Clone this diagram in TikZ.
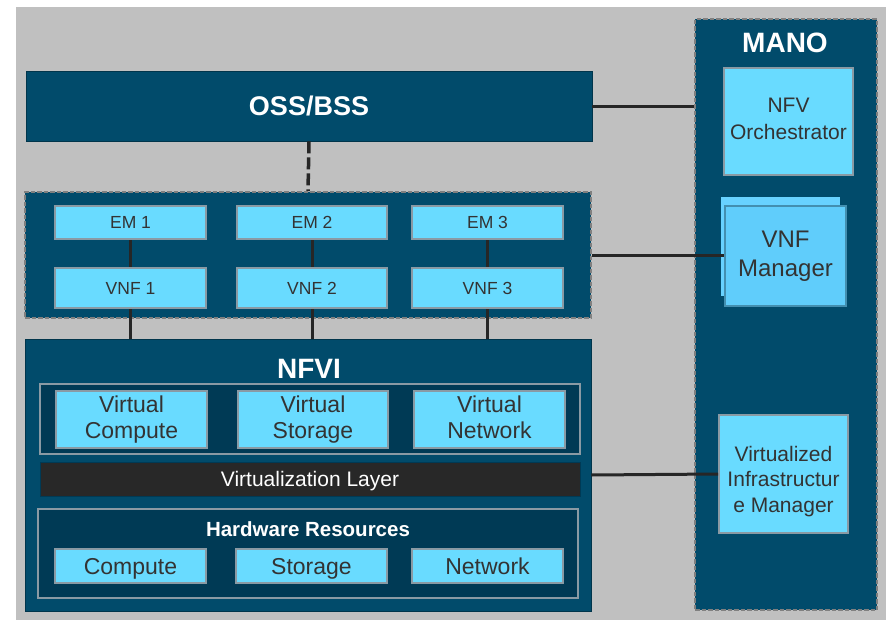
\documentclass[tikz,border=0pt]{standalone}
\usepackage{fontspec}
\setmainfont{Liberation Sans}
\usepackage{tikz}
\usepackage{xcolor}
\usetikzlibrary{positioning}
\definecolor{navy}{HTML}{014B6B}
\definecolor{deepnavy}{HTML}{003A55}
\definecolor{cyanbox}{HTML}{69DBFF}
\definecolor{vnfmbox}{HTML}{60CDFB}
\definecolor{vnfmback}{HTML}{68D2FF}
\definecolor{bggray}{HTML}{C0C0C0}
\definecolor{edgegray}{HTML}{8A9AA4}
\definecolor{txtgray}{HTML}{333333}
\definecolor{wire}{HTML}{262626}
\definecolor{layer}{HTML}{282828}
\newcommand{\capstrut}{\rule[-0.214em]{0pt}{1.144em}}
\tikzstyle{panel} = [rectangle, draw=navy!70!black, fill=navy, line width=0.8pt, inner sep=0pt]
\tikzstyle{dashpanel} = [rectangle, draw=gray, fill=navy, line width=2pt, dash pattern=on 4.5pt off 2pt, inner sep=0pt]
\tikzstyle{group} = [rectangle, draw=edgegray, fill=deepnavy, line width=1.5pt, inner sep=0pt]
\tikzstyle{block} = [rectangle, draw=edgegray, fill=cyanbox, line width=2pt, text=txtgray, align=center, inner sep=0pt, execute at begin node=\capstrut, execute at end node=\capstrut]
\tikzstyle{title} = [text=white, font=\bfseries\fontsize{28}{30}\selectfont]
\tikzstyle{link} = [line width=3pt, draw=wire]

\begin{document}
\begin{tikzpicture}[x=1pt, y=-1pt]
            \useasboundingbox (0,0) rectangle (886,621);
            \fill[bggray] (16,7) rectangle (886,620);

            \node (oss) [panel, title, minimum width=566pt, minimum height=70pt, font=\bfseries\fontsize{27}{30}\selectfont] at (309,106) {OSS/BSS};
            \node (vnfzone) [dashpanel, minimum width=566pt, minimum height=126pt] at (308,255) {};
            \node (em1) [block, minimum width=151pt, minimum height=33pt, font=\fontsize{17.5}{20}\selectfont] at (130.5,222.5) {EM 1};
            \node (em2) [block, minimum width=150pt, minimum height=33pt, font=\fontsize{17.5}{20}\selectfont] at (312,222.5) {EM 2};
            \node (em3) [block, minimum width=151pt, minimum height=33pt, font=\fontsize{17.5}{20}\selectfont] at (487.5,222.5) {EM 3};
            \node (vnf1) [block, minimum width=151pt, minimum height=40pt, font=\fontsize{17.5}{20}\selectfont] at (130.5,288) {VNF 1};
            \node (vnf2) [block, minimum width=150pt, minimum height=40pt, font=\fontsize{17.5}{20}\selectfont] at (312,288) {VNF 2};
            \node (vnf3) [block, minimum width=151pt, minimum height=40pt, font=\fontsize{17.5}{20}\selectfont] at (487.5,288) {VNF 3};

            \node (nfvi) [panel, minimum width=566pt, minimum height=272pt] at (308,475) {};
            \node (nfvilabel) [title] at (309,369) {NFVI};
            \node (virtgroup) [group, minimum width=540pt, minimum height=70pt] at (310,419) {};
            \node (vcompute) [block, minimum width=151pt, minimum height=57pt, font=\fontsize{23}{26}\selectfont] at (131.5,419.5) {Virtual\\Compute};
            \node (vstorage) [block, minimum width=150pt, minimum height=57pt, font=\fontsize{23}{26}\selectfont] at (313,419.5) {Virtual\\Storage};
            \node (vnetwork) [block, minimum width=151pt, minimum height=57pt, font=\fontsize{23}{26}\selectfont] at (489.5,419.5) {Virtual\\Network};
            \node (virtlayer) [rectangle, draw=deepnavy, fill=layer, line width=1pt, minimum width=540pt, minimum height=34pt, text=white, font=\fontsize{21}{24}\selectfont, execute at begin node=\capstrut] at (310,479) {Virtualization Layer};
            \node (hwgroup) [group, minimum width=540pt, minimum height=89pt] at (308,553.5) {};
            \node (hwlabel) [text=white, font=\bfseries\fontsize{20.5}{24}\selectfont] at (308,529) {Hardware Resources};
            \node (compute) [block, minimum width=151pt, minimum height=34pt, font=\fontsize{23}{26}\selectfont] at (130.5,566) {Compute};
            \node (storage) [block, minimum width=151pt, minimum height=34pt, font=\fontsize{23}{26}\selectfont] at (311.5,566) {Storage};
            \node (network) [block, minimum width=151pt, minimum height=34pt, font=\fontsize{23}{26}\selectfont] at (487.5,566) {Network};

            \node (mano) [dashpanel, minimum width=182pt, minimum height=591pt] at (786,314.5) {};
            \node (manolabel) [title] at (785,43) {MANO};
            \node (nfvo) [block, minimum width=129pt, minimum height=107pt, font=\fontsize{21}{27}\selectfont] at (788.5,121.5) {NFV\\Orchestrator};
            \node (vnfmshadow) [rectangle, fill=vnfmback, minimum width=119pt, minimum height=99pt] at (780.5,246.5) {};
            \node (vnfm) [block, fill=vnfmbox, draw=vnfmbox!70!black, line width=1.2pt, minimum width=121pt, minimum height=100pt, font=\fontsize{24}{29}\selectfont] at (785.5,256) {VNF\\Manager};
            \node (vim) [block, minimum width=129pt, minimum height=118pt] at (783.5,474) {};
            \node (vimtext) [text=txtgray, align=center, inner sep=0pt, font=\fontsize{21}{25.5}\selectfont, execute at begin node=\capstrut, execute at end node=\capstrut] at ([yshift=-7.5pt]vim.center) {Virtualized\\Infrastructur\\e Manager};

            \draw[link, line width=3.5pt, dash pattern=on 12pt off 4pt] (oss.south) -- (vnfzone.north);
            \draw[link] (oss.east) -- (oss.east -| mano.west);
            \draw[link] (vnfzone.east) -- (vnfzone.east -| vnfm.west);
            \draw[link] (nfvi.east) -- (vim.west);
            \draw[link] (em1) -- (vnf1);
            \draw[link] (em2) -- (vnf2);
            \draw[link] (em3) -- (vnf3);
            \draw[link] (vnf1.south) -- (vnf1.south |- nfvi.north);
            \draw[link] (vnf2.south) -- (vnf2.south |- nfvi.north);
            \draw[link] (vnf3.south) -- (vnf3.south |- nfvi.north);
        \end{tikzpicture}
\end{document}
